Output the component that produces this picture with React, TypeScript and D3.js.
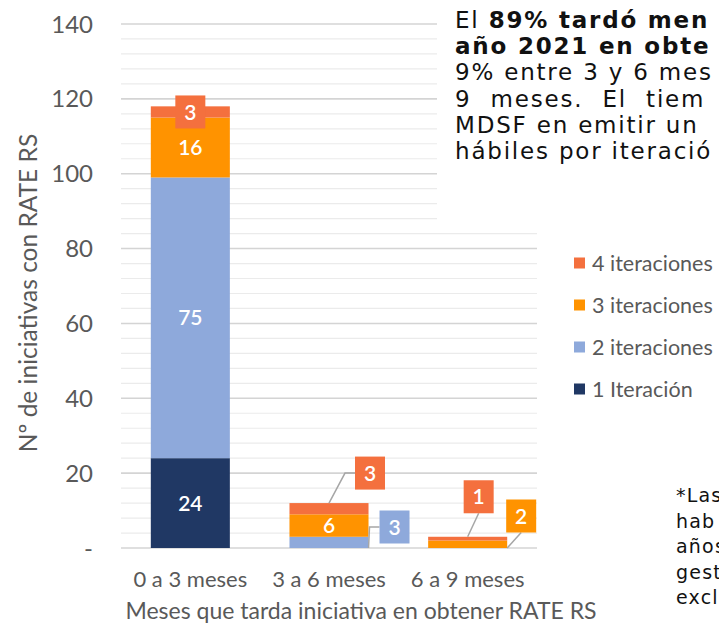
import { useMemo } from "react";
import * as d3 from "d3";

// months it took each initiative to get its RATE RS
const categories = ["0 a 3 meses", "3 a 6 meses", "6 a 9 meses"];
const seriesNames = ["1 Iteración", "2 iteraciones", "3 iteraciones", "4 iteraciones"];
const iter1 = [24, 0, 0];
const iter2 = [75, 3, 0];
const iter3 = [16, 6, 2];
const iter4 = [3, 3, 1];
const yTicks = [0, 20, 40, 60, 80, 100, 120, 140];
const minorStep = 4;

const colors = ["#203864", "#8EA9DB", "#FF9300", "#F4703E"];

// text blocks laid over the chart (cut by the picture's right edge)
const noteLines = [
  [{ t: "El ", b: false }, { t: "89% tardó men", b: true }],
  [{ t: "año 2021 en obte", b: true }],
  [{ t: "9% entre 3 y 6 mes", b: false }],
  [{ t: "9 meses. El tiem", b: false }],
  [{ t: "MDSF en emitir un", b: false }],
  [{ t: "hábiles por iteració", b: false }],
];
const footLines = ["*Las", "hab", "años", "gest", "excl"];

// label boxes that sit outside the bar (series index, category index)
const callouts = [
  { s: 3, c: 0, anchor: "center", dx: 0, dy: 0, leader: "none" },
  { s: 3, c: 1, anchor: "top", dx: 41, dy: -30, leader: "elbow" },
  { s: 1, c: 1, anchor: "rightBottom", dx: 26, dy: -21, leader: "elbow" },
  { s: 3, c: 2, anchor: "top", dx: 11, dy: -40, leader: "direct" },
  { s: 2, c: 2, anchor: "rightBottom", dx: 14, dy: -32, leader: "direct" },
];

const W = 719;
const H = 625;
const M = { left: 121, right: 537, top: 24, bottom: 548 };
const FONT = "Lato, 'Open Sans', sans-serif";
const GREY = "#595959";

export default function App() {
  const { x, y, stacked } = useMemo(() => {
    const table = categories.map((cat, i) => ({
      cat,
      s0: iter1[i],
      s1: iter2[i],
      s2: iter3[i],
      s3: iter4[i],
    }));
    const stacked = d3.stack<any>().keys(["s0", "s1", "s2", "s3"])(table);
    const x = d3
      .scaleBand<string>()
      .domain(categories)
      .range([M.left, M.right])
      .paddingInner(0.43)
      .paddingOuter(0.215);
    const y = d3.scaleLinear().domain([0, 140]).range([M.bottom, M.top]);
    return { x, y, stacked };
  }, []);

  const minorTicks = d3.range(0, 141, minorStep).filter((v) => v % 20 !== 0);
  const bw = x.bandwidth();
  const boxW = 30;
  const boxH = 33;

  const isCallout = (s: number, c: number) => callouts.some((k) => k.s === s && k.c === c);

  return (
    <svg
      width={W}
      height={H}
      style={{ position: "absolute", left: 0, top: 0, background: "#fff" }}
      fontFamily={FONT}
    >
      {/* grid */}
      {minorTicks.map((v) => (
        <line key={"m" + v} x1={M.left} x2={M.right} y1={y(v)} y2={y(v)} stroke="#EBEBEB" strokeWidth={1.2} />
      ))}
      {yTicks.map((v) => (
        <line key={"g" + v} x1={M.left} x2={M.right} y1={y(v)} y2={y(v)} stroke="#D4D4D4" strokeWidth={1.6} />
      ))}

      {/* y ticks */}
      {yTicks.map((v) => (
        <text key={"t" + v} x={93} y={y(v)} dy="0.36em" textAnchor="end" fontSize={24} fill={GREY}>
          {v === 0 ? "-" : v}
        </text>
      ))}

      {/* bars */}
      {stacked.map((layer, si) =>
        layer.map((d, ci) => {
          const h = y(d[0]) - y(d[1]);
          if (h <= 0) return null;
          return (
            <rect
              key={`${si}-${ci}`}
              x={x(categories[ci])}
              y={y(d[1])}
              width={bw}
              height={h}
              fill={colors[si]}
            />
          );
        })
      )}

      {/* inline labels */}
      {stacked.map((layer, si) =>
        layer.map((d, ci) => {
          const v = d[1] - d[0];
          if (v <= 0 || isCallout(si, ci)) return null;
          return (
            <text
              key={`l${si}-${ci}`}
              x={(x(categories[ci]) as number) + bw / 2}
              y={y((d[0] + d[1]) / 2)}
              dy="0.36em"
              textAnchor="middle"
              fontSize={21}
              fontWeight={600}
              fill="#fff"
            >
              {v}
            </text>
          );
        })
      )}

      {/* callout labels */}
      {callouts.map((k, i) => {
        const d = stacked[k.s][k.c];
        const x0 = x(categories[k.c]) as number;
        let ax = x0 + bw / 2;
        let ay = y((d[0] + d[1]) / 2);
        if (k.anchor === "top") ay = y(d[1]);
        if (k.anchor === "rightBottom") {
          ax = x0 + bw;
          ay = y(d[0]);
        }
        const cx = ax + k.dx;
        const cy = ay + k.dy;
        let pts: [number, number][] = [];
        if (k.leader === "elbow") pts = [[ax, ay], [cx - boxW / 2 - 10, cy], [cx - boxW / 2, cy]];
        if (k.leader === "direct") pts = [[ax, ay], [cx, cy + boxH / 2]];
        return (
          <g key={"c" + i}>
            {pts.length > 0 && (
              <path d={d3.line()(pts) || ""} fill="none" stroke="#A6A6A6" strokeWidth={1.5} />
            )}
            <rect x={cx - boxW / 2} y={cy - boxH / 2} width={boxW} height={boxH} fill={colors[k.s]} />
            <text x={cx} y={cy} dy="0.36em" textAnchor="middle" fontSize={21} fontWeight={600} fill="#fff">
              {d[1] - d[0]}
            </text>
          </g>
        );
      })}

      {/* x labels */}
      {categories.map((c) => (
        <text key={c} x={(x(c) as number) + bw / 2} y={587} textAnchor="middle" fontSize={22} fill={GREY}>
          {c}
        </text>
      ))}
      <text x={361} y={619} textAnchor="middle" fontSize={23} fill={GREY}>
        Meses que tarda iniciativa en obtener RATE RS
      </text>
      <text transform="translate(37,293) rotate(-90)" textAnchor="middle" fontSize={24.5} fill={GREY}>
        Nº de iniciativas con RATE RS
      </text>

      {/* legend */}
      {seriesNames
        .map((n, i) => ({ n, i }))
        .reverse()
        .map(({ n, i }, row) => (
          <g key={n} transform={`translate(574,${263 + row * 42})`}>
            <rect x={0} y={-5.5} width={11} height={11} fill={colors[i]} />
            <text x={18} y={0} dy="0.35em" fontSize={21.5} fill={GREY}>
              {n}
            </text>
          </g>
        ))}

      {/* note text over the chart */}
      <rect x={437} y={0} width={W - 437} height={224} fill="#fff" />
      <g fontFamily="'DejaVu Sans', sans-serif" fontSize={23} fill="#111" letterSpacing={1.8}>
        {noteLines.map((line, i) => (
          <text key={"n" + i} x={455} y={28 + i * 26.2} wordSpacing={i === 3 ? 10 : 0}>
            {line.map((p, j) => (
              <tspan key={j} fontWeight={p.b ? "bold" : "normal"}>
                {p.t}
              </tspan>
            ))}
          </text>
        ))}
      </g>
      <g fontFamily="'DejaVu Sans', sans-serif" fontSize={19} fill="#111" letterSpacing={1.2}>
        {footLines.map((t, i) => (
          <text key={"f" + i} x={676} y={502 + i * 25.5}>
            {t}
          </text>
        ))}
      </g>
    </svg>
  );
}
